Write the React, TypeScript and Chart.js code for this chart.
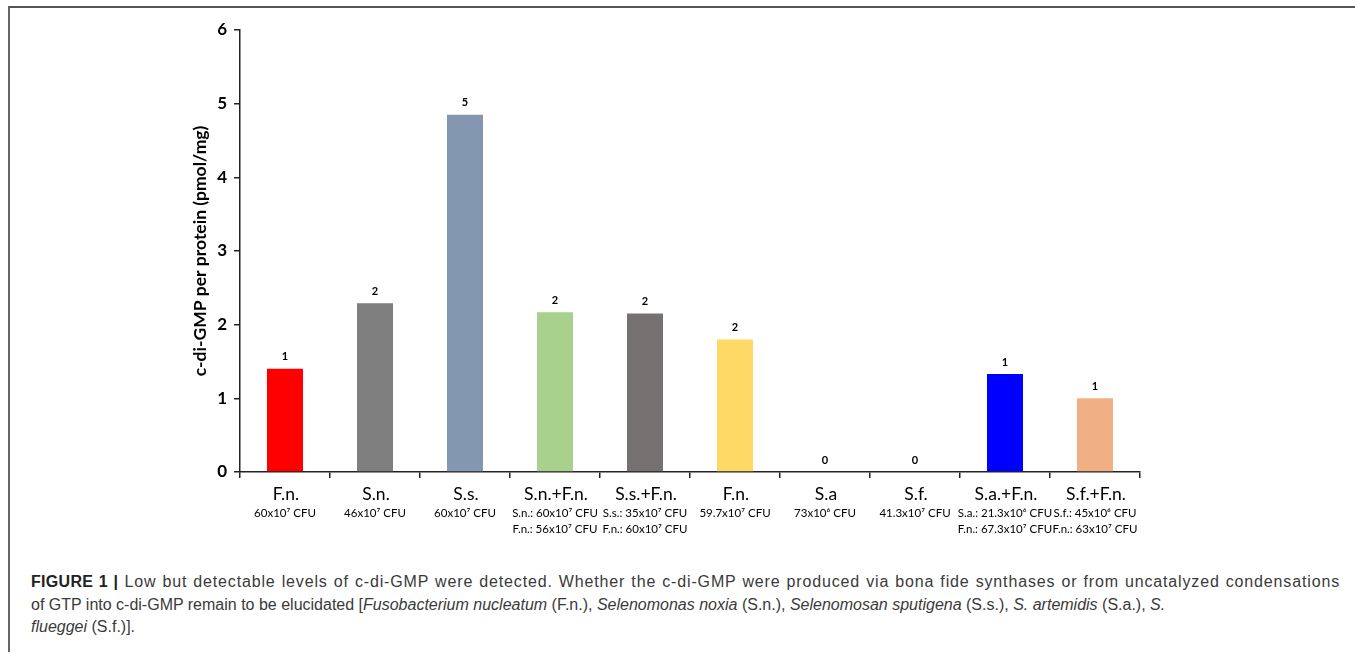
import React, { useEffect, useRef } from "react";
import { Chart, registerables } from "chart.js";

Chart.register(...registerables);

const categories = ["F.n.", "S.n.", "S.s.", "S.n.+F.n.", "S.s.+F.n.", "F.n.", "S.a", "S.f.", "S.a.+F.n.", "S.f.+F.n."];
const cfuLine1 = [
  "60x10⁷ CFU",
  "46x10⁷ CFU",
  "60x10⁷ CFU",
  "S.n.: 60x10⁷ CFU",
  "S.s.: 35x10⁷ CFU",
  "59.7x10⁷ CFU",
  "73x10⁶ CFU",
  "41.3x10⁷ CFU",
  "S.a.: 21.3x10⁶ CFU",
  "S.f.: 45x10⁶ CFU",
];
const cfuLine2 = ["", "", "", "F.n.: 56x10⁷ CFU", "F.n.: 60x10⁷ CFU", "", "", "", "F.n.: 67.3x10⁷ CFU", "F.n.: 63x10⁷ CFU"];
const values = [1.4, 2.29, 4.85, 2.17, 2.15, 1.8, 0, 0, 1.33, 1.0];
const valueLabels = ["1", "2", "5", "2", "2", "2", "0", "0", "1", "1"];
const barColors = ["#FF0000", "#7F7F7F", "#8497B0", "#A9D18E", "#767171", "#FFD966", "#0000FF", "#0000FF", "#0000FF", "#F0B084"];
const yTitle = "c-di-GMP per protein (pmol/mg)";

const FONT = "Lato, 'Open Sans', sans-serif";

const labelPlugin = {
  id: "customLabels",
  afterDatasetsDraw(chart: any) {
    const ctx = chart.ctx;
    const meta = chart.getDatasetMeta(0);
    const xScale = chart.scales.x;
    const yScale = chart.scales.y;
    ctx.save();
    ctx.fillStyle = "#000";
    ctx.textAlign = "center";
    ctx.textBaseline = "middle";
    // value labels
    ctx.font = `bold 11px ${FONT}`;
    meta.data.forEach((bar: any, i: number) => {
      ctx.fillText(valueLabels[i], bar.x, bar.y - 12);
    });
    // x labels
    const base = yScale.getPixelForValue(0);
    categories.forEach((c, i) => {
      const x = xScale.getPixelForValue(i);
      ctx.font = `17.5px ${FONT}`;
      ctx.fillText(c, x + 1, base + 22);
      ctx.font = `11.5px ${FONT}`;
      ctx.fillText(cfuLine1[i], x, base + 41);
      if (cfuLine2[i]) ctx.fillText(cfuLine2[i], x, base + 57);
    });
    // y title
    const cy = (yScale.top + yScale.bottom) / 2;
    ctx.translate(200, cy);
    ctx.rotate(-Math.PI / 2);
    ctx.font = `bold 17.5px ${FONT}`;
    ctx.fillText(yTitle, 0, 0);
    ctx.restore();
  },
};

export default function App() {
  const ref = useRef<HTMLCanvasElement>(null);

  useEffect(() => {
    if (!ref.current) return;
    const chart = new Chart(ref.current, {
      type: "bar",
      data: {
        labels: categories,
        datasets: [
          {
            data: values,
            backgroundColor: barColors,
            barPercentage: 0.4,
            categoryPercentage: 1,
          },
        ],
      },
      options: {
        responsive: false,
        animation: false,
        layout: { padding: { top: 30, right: 215, left: 0, bottom: 0 } },
        plugins: { legend: { display: false }, tooltip: { enabled: false }, title: { display: false } },
        scales: {
          x: {
            type: "category",
            offset: true,
            grid: { display: true, drawOnChartArea: false, drawTicks: true, tickLength: 6, color: "#222", offset: true, lineWidth: 1.5 },
            border: { display: true, color: "#222", width: 1.5 },
            ticks: { display: false },
            afterFit: (s: any) => {
              s.height = 88;
            },
          },
          y: {
            min: 0,
            max: 6,
            ticks: { stepSize: 1, color: "#000", font: { family: FONT, size: 17, weight: "bold" }, padding: 7 },
            grid: { display: true, drawOnChartArea: false, drawTicks: true, tickLength: 6, color: "#222", lineWidth: 1.5 },
            border: { display: true, color: "#222", width: 1.5 },
            afterFit: (s: any) => {
              s.width = 240;
            },
          },
        },
      },
      plugins: [labelPlugin],
    });
    return () => chart.destroy();
  }, []);

  const captionStyle: React.CSSProperties = {
    whiteSpace: "nowrap",
    height: 22.5,
    lineHeight: "22.5px",
  };

  return (
    <div style={{ position: "absolute", left: 0, top: 0, width: 1355, height: 654, overflow: "hidden", background: "#fff" }}>
      <div
        style={{
          position: "absolute",
          left: 8,
          top: 6,
          width: 1400,
          height: 644,
          borderTop: "2px solid #555",
          borderLeft: "2px solid #666",
        }}
      />
      <canvas ref={ref} width={1355} height={560} style={{ position: "absolute", left: 0, top: 0, width: 1355, height: 560 }} />
      <div
        style={{
          position: "absolute",
          left: 31,
          top: 571,
          width: 1309,
          fontFamily: "'Liberation Sans', Arial, sans-serif",
          fontSize: 16,
          color: "#3a3a3a",
        }}
      >
        <div style={{ ...captionStyle, whiteSpace: "normal", letterSpacing: "0.85px", textAlign: "justify", textAlignLast: "justify" }}>
          <b style={{ color: "#222", letterSpacing: "0.3px" }}>FIGURE 1 |</b> Low but detectable levels of c-di-GMP were detected. Whether the c-di-GMP were produced via bona fide synthases or from uncatalyzed condensations
        </div>
        <div style={captionStyle}>
          of GTP into c-di-GMP remain to be elucidated [<i>Fusobacterium nucleatum</i> (F.n.), <i>Selenomonas noxia</i> (S.n.), <i>Selenomosan sputigena</i> (S.s.), <i>S. artemidis</i> (S.a.), <i>S.</i>
        </div>
        <div style={captionStyle}>
          <i>flueggei</i> (S.f.)].
        </div>
      </div>
    </div>
  );
}
